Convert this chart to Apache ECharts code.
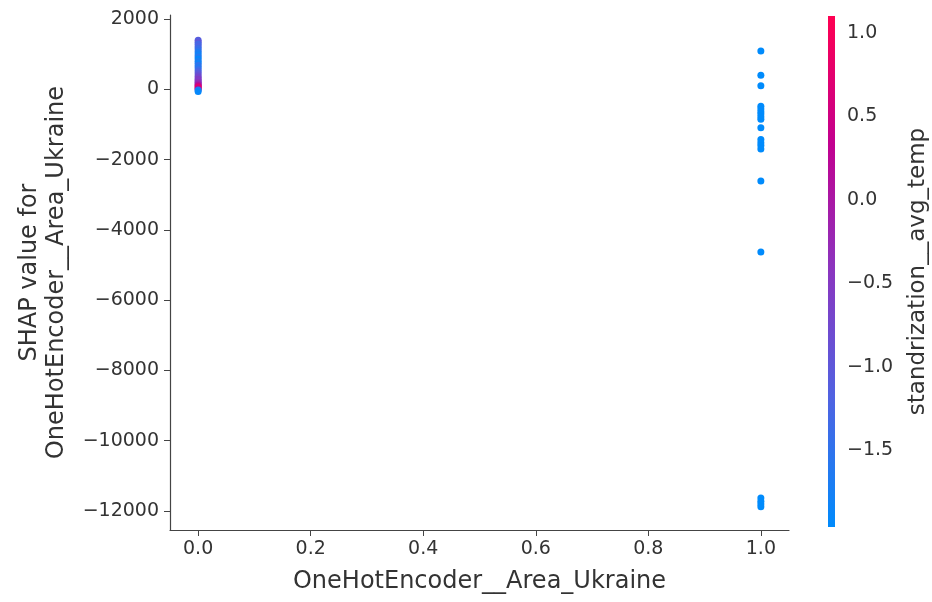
<!DOCTYPE html>
<html>
<head>
<meta charset="utf-8">
<script src="https://cdn.jsdelivr.net/npm/echarts@6/dist/echarts.min.js"></script>
<style>
  html, body { margin: 0; padding: 0; background: #fff; }
  #main { width: 932px; height: 602px; }
</style>
</head>
<body>
<div id="main"></div>
<script>
// feature value 0 : SHAP values and their standrization__avg_temp colour
var shapAt0 = [1400, 1340, 1280, 1220, 1160, 1100, 1040, 980, 920, 860, 800, 740, 680, 620, 560,
  500, 440, 380, 330, 280, 240, 200, 160, 130, 100, 70, 40, 10, -20, -60];
var tempAt0 = [-1.1, -1.0, -1.3, -1.2, -1.4, -1.5, -1.7, -1.8, -1.6, -1.9, -1.7, -1.8, -1.5, -1.6, -1.4,
  -1.2, -1.0, -0.8, -0.7, -0.5, -0.6, -0.4, -0.3, -0.1, 0.2, 0.6, 0.9, 0.3, -1.6, -1.9];
// feature value 1 : all at the lowest temperature
var shapAt1 = [1090, 400, 100, -480, -560, -640, -700, -780, -850, -1090, -1430, -1520, -1600, -1700,
  -2610, -4630, -11630, -11720, -11800, -11880];
var tempAt1 = -1.96;

var xTicks = [0, 0.2, 0.4, 0.6, 0.8, 1.0];
var yTicks = [-12000, -10000, -8000, -6000, -4000, -2000, 0, 2000];
var cbTicks = [-1.5, -1.0, -0.5, 0.0, 0.5, 1.0];
var cbMin = -1.96, cbMax = 1.10;
var cmap = ['#008bfc', '#4f63e2', '#8a36c0', '#c2008f', '#ff0051'];

var points = [];
for (var i = 0; i < shapAt0.length; i++) points.push([0, shapAt0[i], tempAt0[i]]);
for (var j = 0; j < shapAt1.length; j++) points.push([1, shapAt1[j], tempAt1]);

function minus(v, d) {
  var s = d == null ? String(v) : Number(v).toFixed(d);
  return s.replace('-', '\u2212');
}

var font = 'DejaVu Sans';
var txt = '#333';
var tickSize = 19, titleSize = 24;
var chart = echarts.init(document.getElementById('main'));

// colour bar gradient, bottom (min) to top (max)
var stops = cmap.map(function (c, k) { return { offset: k / (cmap.length - 1), color: c }; });

chart.setOption({
  backgroundColor: '#fff',
  textStyle: { fontFamily: font },
  grid: [
    { left: 170, top: 15, width: 619, height: 515 },
    { left: 828, top: 16, width: 7, height: 511 }
  ],
  xAxis: [{
    type: 'value', gridIndex: 0, min: -0.05, max: 1.05,
    name: 'OneHotEncoder__Area_Ukraine', nameLocation: 'middle', nameGap: 40,
    nameTextStyle: { fontSize: titleSize, color: txt, fontFamily: font },
    splitLine: { show: false },
    axisLine: { show: true, onZero: false, lineStyle: { color: '#444', width: 1.2 } },
    axisTick: { show: true, length: 6, customValues: xTicks, lineStyle: { color: '#444' } },
    axisLabel: { customValues: xTicks, fontSize: tickSize, color: txt, margin: 10,
      formatter: function (v) { return minus(v, 1); } }
  }, {
    type: 'value', gridIndex: 1, show: false, min: 0, max: 1
  }],
  yAxis: [{
    type: 'value', gridIndex: 0, min: -12540, max: 2115,
    name: 'SHAP value for\nOneHotEncoder__Area_Ukraine', nameLocation: 'middle', nameGap: 100,
    nameTextStyle: { fontSize: titleSize, color: txt, fontFamily: font, lineHeight: 27 },
    splitLine: { show: false },
    axisLine: { show: true, onZero: false, lineStyle: { color: '#444', width: 1.2 } },
    axisTick: { show: true, length: 6, customValues: yTicks, lineStyle: { color: '#444' } },
    axisLabel: { customValues: yTicks, fontSize: tickSize, color: txt, margin: 11,
      formatter: function (v) { return minus(v); } }
  }, {
    type: 'value', gridIndex: 1, position: 'right', min: cbMin, max: cbMax,
    name: 'standrization__avg_temp', nameLocation: 'middle', nameGap: 72, nameRotate: 90,
    nameTextStyle: { fontSize: 23, color: txt, fontFamily: font },
    splitLine: { show: false },
    axisLine: { show: false },
    axisTick: { show: true, length: 6, customValues: cbTicks, lineStyle: { color: '#444' } },
    axisLabel: { customValues: cbTicks, fontSize: tickSize, color: txt, margin: 12,
      formatter: function (v) { return minus(v, 1); } }
  }],
  visualMap: {
    type: 'continuous', show: false, seriesIndex: 0, dimension: 2,
    min: cbMin, max: cbMax,
    inRange: { color: cmap }
  },
  series: [{
    type: 'scatter', xAxisIndex: 0, yAxisIndex: 0,
    symbolSize: 7, data: points, itemStyle: { opacity: 1 }
  }, {
    type: 'scatter', xAxisIndex: 1, yAxisIndex: 1, symbolSize: 0, silent: true,
    data: [[0.5, 0]],
    markArea: {
      silent: true,
      itemStyle: { opacity: 1, color: new echarts.graphic.LinearGradient(0, 1, 0, 0, stops) },
      data: [[{ yAxis: cbMin }, { yAxis: cbMax }]]
    }
  }]
});
</script>
</body>
</html>
